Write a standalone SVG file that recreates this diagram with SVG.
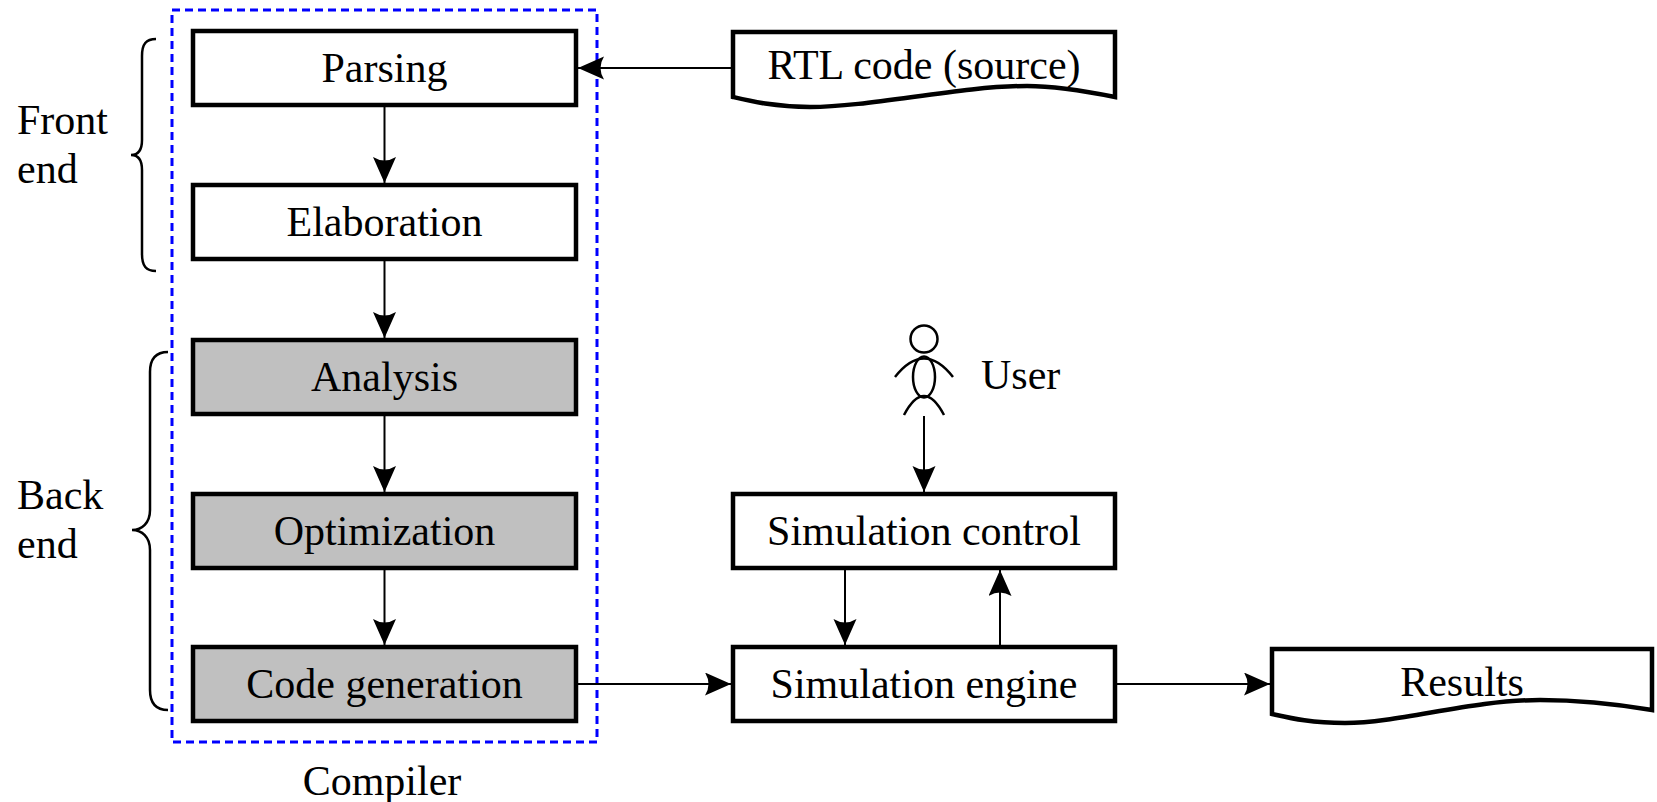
<svg xmlns="http://www.w3.org/2000/svg" width="1657" height="802" viewBox="0 0 1657 802">
<style>
.box{fill:#ffffff;stroke:#000;stroke-width:4.5;stroke-linejoin:miter}
.gray{fill:#c0c0c0}
.lbl{font-family:"Liberation Serif","Times New Roman",serif;font-size:42px;fill:#000;text-anchor:middle}
.side{font-family:"Liberation Serif","Times New Roman",serif;font-size:42px;fill:#000}
.conn{fill:none;stroke:#000;stroke-width:2}
.brace{fill:none;stroke:#000;stroke-width:2.5}
.fig{fill:none;stroke:#000;stroke-width:2.5}
</style>
<defs>
<marker id="arr" markerUnits="userSpaceOnUse" markerWidth="28" markerHeight="24" refX="26" refY="11.5" orient="auto">
<path d="M26,11.5 L0,0 Q7,11.5 0,23 Z" fill="#000"/>
</marker>
</defs>
<rect width="1657" height="802" fill="#fff"/>

<g id="compiler">
<rect x="172" y="10" width="425" height="732" fill="none" stroke="#0000ff" stroke-width="3" stroke-dasharray="8 5"/>
<text class="lbl" x="382" y="795">Compiler</text>
</g>

<g id="front-end">
<path class="brace" d="M156,39 C146,39 142,44 142,56 L142,140 C142,150 138,155 131,155 C138,155 142,160 142,170 L142,254 C142,266 146,271 156,271"/>
<text class="side" x="17" y="134">Front</text>
<text class="side" x="17" y="183">end</text>
</g>

<g id="back-end">
<path class="brace" d="M168,352 C156,352 150,358 150,372 L150,510 C150,523 142,530 132,530 C142,530 150,537 150,550 L150,690 C150,703 156,710 168,710"/>
<text class="side" x="17" y="509">Back</text>
<text class="side" x="17" y="558">end</text>
</g>

<g id="parsing">
<rect class="box" x="193" y="31" width="383" height="74"/>
<text class="lbl" x="384.5" y="82">Parsing</text>
</g>
<g id="elaboration">
<rect class="box" x="193" y="185" width="383" height="74"/>
<text class="lbl" x="384.5" y="236">Elaboration</text>
</g>
<g id="analysis">
<rect class="box gray" x="193" y="340" width="383" height="74"/>
<text class="lbl" x="384.5" y="391">Analysis</text>
</g>
<g id="optimization">
<rect class="box gray" x="193" y="494" width="383" height="74"/>
<text class="lbl" x="384.5" y="545">Optimization</text>
</g>
<g id="code-generation">
<rect class="box gray" x="193" y="647" width="383" height="74"/>
<text class="lbl" x="384.5" y="698">Code generation</text>
</g>

<g id="rtl-code">
<path class="box" d="M733,32 H1115 V97 C1080,90 1050,86 1027,86 C960,86 870,107 810,107 C775,107 750,101 733,97 Z"/>
<text class="lbl" x="924" y="79">RTL code (source)</text>
</g>

<g id="user">
<circle class="fig" cx="924" cy="339" r="13.5"/>
<ellipse class="fig" cx="924" cy="377" rx="11" ry="20.5"/>
<path class="fig" d="M895,377 Q924,340 953,377"/>
<path class="fig" d="M904,415 Q924,377 944,415"/>
<text class="side" x="981" y="389">User</text>
</g>

<g id="simulation-control">
<rect class="box" x="733" y="494" width="382" height="74"/>
<text class="lbl" x="924" y="545">Simulation control</text>
</g>
<g id="simulation-engine">
<rect class="box" x="733" y="647" width="382" height="74"/>
<text class="lbl" x="924" y="698">Simulation engine</text>
</g>

<g id="results">
<path class="box" d="M1272,649 H1652 V710 C1610,703 1575,700 1540,700 C1470,700 1400,723 1345,723 C1310,723 1290,718 1272,714 Z"/>
<text class="lbl" x="1462" y="696">Results</text>
</g>

<g id="connectors">
<line class="conn" x1="384.5" y1="107" x2="384.5" y2="183" marker-end="url(#arr)"/>
<line class="conn" x1="384.5" y1="261" x2="384.5" y2="338" marker-end="url(#arr)"/>
<line class="conn" x1="384.5" y1="416" x2="384.5" y2="492" marker-end="url(#arr)"/>
<line class="conn" x1="384.5" y1="570" x2="384.5" y2="645" marker-end="url(#arr)"/>
<line class="conn" x1="731" y1="68" x2="578" y2="68" marker-end="url(#arr)"/>
<line class="conn" x1="578" y1="684" x2="731" y2="684" marker-end="url(#arr)"/>
<line class="conn" x1="1117" y1="684" x2="1270" y2="684" marker-end="url(#arr)"/>
<line class="conn" x1="845" y1="570" x2="845" y2="645" marker-end="url(#arr)"/>
<line class="conn" x1="1000" y1="645" x2="1000" y2="570" marker-end="url(#arr)"/>
<line class="conn" x1="924" y1="416" x2="924" y2="492" marker-end="url(#arr)"/>
</g>
</svg>
